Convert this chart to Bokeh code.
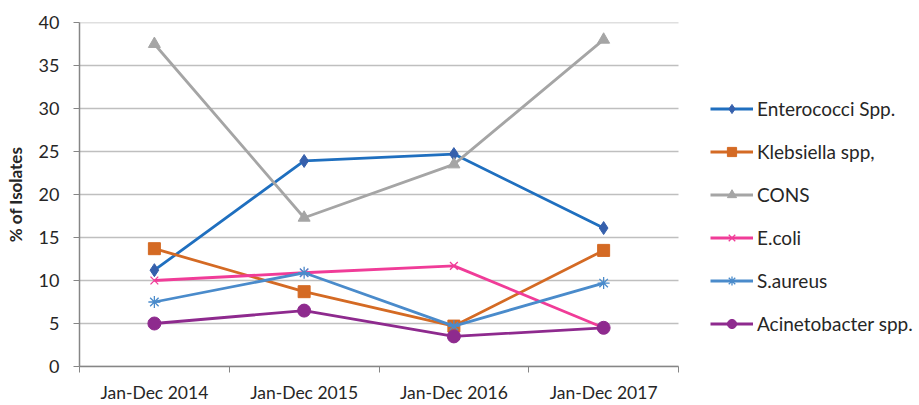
from bokeh.plotting import figure
from bokeh.models import (Range1d, FixedTicker, Legend, LegendItem, ColumnDataSource)
from bokeh.embed import file_html
from bokeh.resources import INLINE

categories = ["Jan-Dec 2014", "Jan-Dec 2015", "Jan-Dec 2016", "Jan-Dec 2017"]
enterococci = [11.2, 23.9, 24.7, 16.1]
klebsiella = [13.7, 8.7, 4.7, 13.5]
cons = [37.5, 17.3, 23.5, 38.0]
ecoli = [10.0, 10.9, 11.7, 4.5]
saureus = [7.5, 10.9, 4.7, 9.7]
acinetobacter = [5.0, 6.5, 3.5, 4.5]
y_ticks = [0, 5, 10, 15, 20, 25, 30, 35, 40]

series = [
    ("Enterococci Spp.", enterococci, "#1F6FBF", "#3660AC", "diamond", 13),
    ("Klebsiella spp,", klebsiella, "#D46A24", "#D46A24", "square", 12),
    ("CONS", cons, "#A5A5A5", "#A5A5A5", "triangle", 12),
    ("E.coli", ecoli, "#F03C98", "#F03C98", "x", 11),
    ("S.aureus", saureus, "#4A8BCB", "#4A8BCB", "asterisk", 12),
    ("Acinetobacter spp.", acinetobacter, "#8E2A8E", "#8E2A8E", "circle", 13),
]

FONT = "Lato"
W, H = 919, 405
LEFT, TOP, BOTTOM = 79, 22, 37
PLOT_W = 599                      # width of the drawn plot area
FRAME_W = W - LEFT                # frame extends under the legend
n = len(categories)
xpos = [i + 0.5 for i in range(n)]
x_end = n * FRAME_W / PLOT_W

p = figure(width=W, height=H, output_backend="svg", toolbar_location=None,
           x_range=Range1d(0, x_end), y_range=Range1d(0, 40),
           min_border_left=LEFT, min_border_right=0, min_border_top=TOP,
           min_border_bottom=BOTTOM)
p.outline_line_color = None
p.background_fill_color = "white"
p.border_fill_color = "white"

# axes
p.xaxis.bounds = (0, n)
p.xaxis.ticker = FixedTicker(ticks=xpos, minor_ticks=list(range(n + 1)))
p.xaxis.major_label_overrides = {x: c for x, c in zip(xpos, categories)}
p.xaxis.major_tick_line_color = None
p.xaxis.minor_tick_line_color = "#868686"
p.xaxis.minor_tick_out = 6
p.xaxis.minor_tick_in = 0
p.xaxis.axis_line_color = "#868686"
p.xaxis.axis_line_width = 1.5
p.xaxis.major_label_text_font = FONT
p.xaxis.major_label_text_font_size = "17.5px"
p.xaxis.major_label_text_color = "#262626"
p.xaxis.major_label_standoff = 9

p.yaxis.ticker = FixedTicker(ticks=y_ticks)
p.yaxis.minor_tick_line_color = None
p.yaxis.major_tick_line_color = "#868686"
p.yaxis.major_tick_out = 6
p.yaxis.major_tick_in = 0
p.yaxis.axis_line_color = "#868686"
p.yaxis.axis_line_width = 1.5
p.yaxis.major_label_text_font = FONT
p.yaxis.major_label_text_font_size = "18px"
p.yaxis.major_label_text_color = "#262626"
p.yaxis.major_label_standoff = 14
p.yaxis.axis_label = "% of Isolates"
p.yaxis.axis_label_text_font = FONT
p.yaxis.axis_label_text_font_style = "bold"
p.yaxis.axis_label_text_font_size = "17px"
p.yaxis.axis_label_text_color = "#262626"
p.yaxis.axis_label_standoff = 10

p.xgrid.grid_line_color = None
p.ygrid.grid_line_color = None

# horizontal grid lines limited to the plot area
p.segment(x0=[0] * len(y_ticks), x1=[n] * len(y_ticks), y0=y_ticks, y1=y_ticks,
          line_color="#BFBFBF", line_width=1.5)

items = []
for name, vals, lc, mc, marker, size in series:
    src = ColumnDataSource(dict(x=xpos, y=vals))
    r1 = p.line("x", "y", source=src, line_color=lc, line_width=2.8)
    if marker in ("x", "asterisk"):
        r2 = p.scatter("x", "y", source=src, marker=marker, size=size,
                       line_color=mc, line_width=1.3)
    else:
        r2 = p.scatter("x", "y", source=src, marker=marker, size=size,
                       fill_color=mc, line_color=mc)
    items.append(LegendItem(label=name, renderers=[r1, r2]))

legend = Legend(items=items, location=(631, 31), orientation="vertical",
                glyph_width=43, glyph_height=23, label_height=23, spacing=20,
                label_standoff=4, padding=0, margin=0,
                border_line_color=None, background_fill_alpha=0,
                label_text_font=FONT, label_text_font_size="19px",
                label_text_color="#262626")
p.add_layout(legend, "center")

open("out.html", "w").write(file_html(p, INLINE))
